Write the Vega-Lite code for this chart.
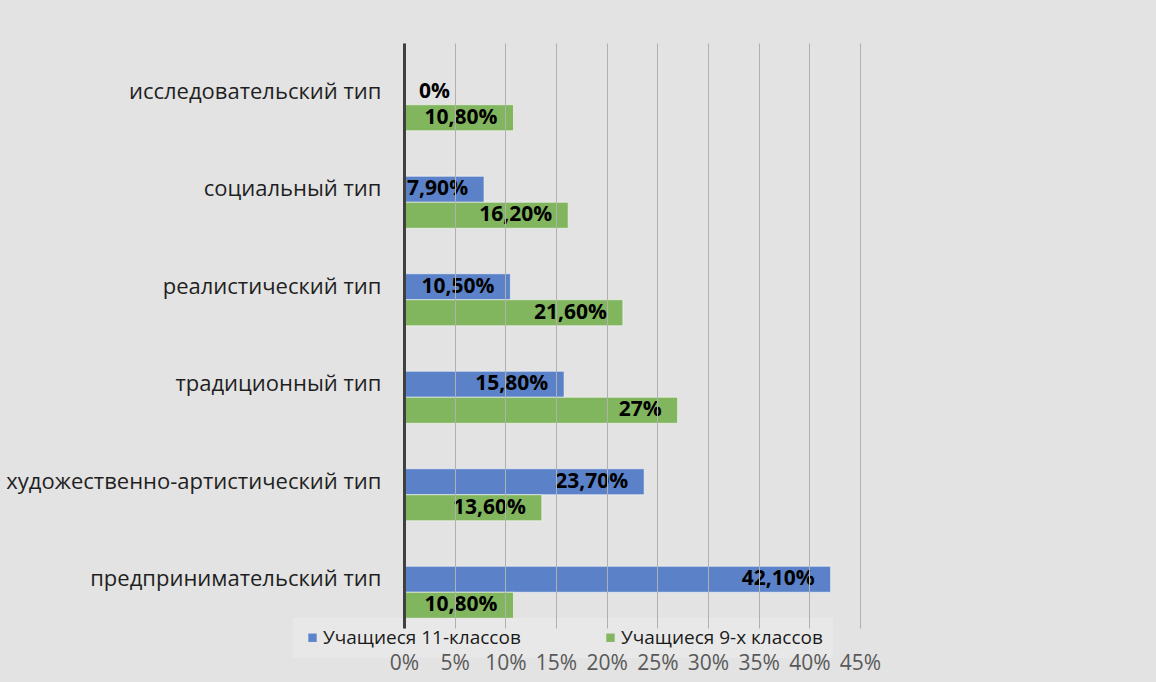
{
  "$schema": "https://vega.github.io/schema/vega-lite/v6.json",
  "width": 456,
  "height": 585,
  "padding": {"left": 0, "top": 43, "right": 296, "bottom": 0},
  "background": "#e3e3e3",
  "config": {"view": {"stroke": null}, "font": "Open Sans"},
  "data": {
    "values": [
      {"type": "исследовательский тип", "series": "Учащиеся 11-классов", "value": 0, "label": "0%"},
      {"type": "исследовательский тип", "series": "Учащиеся 9-х классов", "value": 0.108, "label": "10,80%"},
      {"type": "социальный тип", "series": "Учащиеся 11-классов", "value": 0.079, "label": "7,90%"},
      {"type": "социальный тип", "series": "Учащиеся 9-х классов", "value": 0.162, "label": "16,20%"},
      {"type": "реалистический тип", "series": "Учащиеся 11-классов", "value": 0.105, "label": "10,50%"},
      {"type": "реалистический тип", "series": "Учащиеся 9-х классов", "value": 0.216, "label": "21,60%"},
      {"type": "традиционный тип", "series": "Учащиеся 11-классов", "value": 0.158, "label": "15,80%"},
      {"type": "традиционный тип", "series": "Учащиеся 9-х классов", "value": 0.27, "label": "27%"},
      {"type": "художественно-артистический тип", "series": "Учащиеся 11-классов", "value": 0.237, "label": "23,70%"},
      {"type": "художественно-артистический тип", "series": "Учащиеся 9-х классов", "value": 0.136, "label": "13,60%"},
      {"type": "предпринимательский тип", "series": "Учащиеся 11-классов", "value": 0.421, "label": "42,10%"},
      {"type": "предпринимательский тип", "series": "Учащиеся 9-х классов", "value": 0.108, "label": "10,80%"}
    ]
  },
  "encoding": {
    "y": {
      "field": "type",
      "type": "nominal",
      "sort": ["исследовательский тип", "социальный тип", "реалистический тип", "традиционный тип", "художественно-артистический тип", "предпринимательский тип"],
      "scale": {"paddingInner": 0.2, "paddingOuter": 0.1},
      "axis": {
        "title": null,
        "ticks": false,
        "labelPadding": 23,
        "labelFontSize": 22,
        "labelColor": "#1f1f1f",
        "labelLimit": 0,
        "domainColor": "#404040",
        "domainWidth": 3,
        "minExtent": 404,
        "maxExtent": 404,
        "zindex": 2
      }
    },
    "yOffset": {
      "field": "series",
      "type": "nominal",
      "scale": {"domain": ["_", "Учащиеся 11-классов", "Учащиеся 9-х классов"], "paddingInner": 0, "paddingOuter": 0}
    }
  },
  "layer": [
    {
      "mark": {"type": "bar", "opacity": 0.85, "stroke": "#ffffff", "strokeOpacity": 0.6, "strokeWidth": 1},
      "encoding": {
        "x": {
          "field": "value",
          "type": "quantitative",
          "scale": {"domain": [0, 0.45], "nice": false},
          "axis": {
            "title": null,
            "values": [0, 0.05, 0.1, 0.15, 0.2, 0.25, 0.3, 0.35, 0.4, 0.45],
            "format": ".0%",
            "labelFontSize": 21,
            "labelColor": "#595959",
            "labelPadding": 24,
            "labelOverlap": false,
            "labelFlush": false,
            "labelBound": false,
            "ticks": false,
            "domain": false,
            "grid": true,
            "gridColor": "#b0b0b0",
            "gridWidth": 1,
            "minExtent": 54,
            "maxExtent": 54,
            "zindex": 2
          }
        },
        "color": {
          "field": "series",
          "type": "nominal",
          "scale": {"domain": ["Учащиеся 11-классов", "Учащиеся 9-х классов"], "range": ["#4472C4", "#70AD47"]},
          "legend": {
            "title": null,
            "orient": "none",
            "direction": "horizontal",
            "legendX": -111,
            "legendY": 575,
            "padding": 10,
            "fillColor": "#e8e8e8",
            "symbolType": "square",
            "symbolSize": 70,
            "symbolStrokeWidth": 0,
            "symbolOpacity": 0.85,
            "labelFontSize": 19,
            "labelLimit": 0,
            "labelColor": "#1a1a1a",
            "labelOffset": 1,
            "columnPadding": 80,
            "zindex": 1
          }
        }
      }
    },
    {
      "transform": [{"filter": "datum.value > 0"}],
      "mark": {"type": "text", "align": "right", "baseline": "middle", "dx": -16, "fontWeight": "bold", "fontSize": 21, "color": "#000000"},
      "encoding": {
        "x": {"field": "value", "type": "quantitative"},
        "text": {"field": "label"}
      }
    },
    {
      "transform": [{"filter": "datum.value == 0"}],
      "mark": {"type": "text", "align": "left", "baseline": "middle", "dx": 15, "fontWeight": "bold", "fontSize": 21, "color": "#000000"},
      "encoding": {
        "x": {"field": "value", "type": "quantitative"},
        "text": {"field": "label"}
      }
    }
  ]
}
